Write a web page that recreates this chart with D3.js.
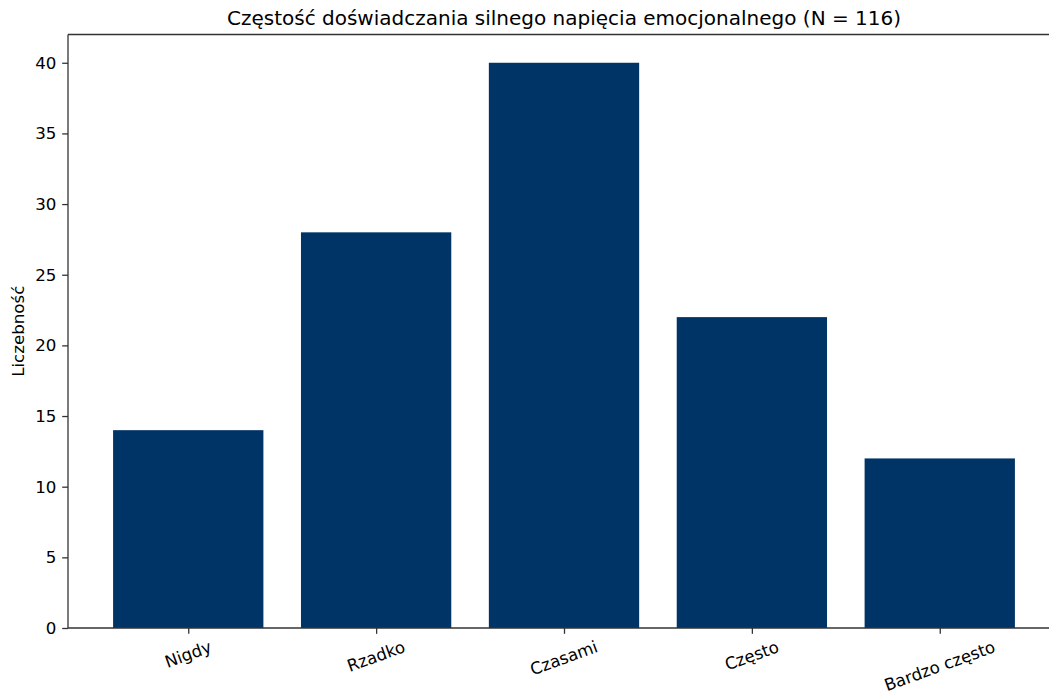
<!DOCTYPE html>
<html lang="pl">
<head>
<meta charset="UTF-8">
<title>Częstość doświadczania silnego napięcia emocjonalnego</title>
<script src="https://d3js.org/d3.v7.min.js"></script>
<style>
  body { margin: 0; background: #fff; }
  svg { font-family: "DejaVu Sans", sans-serif; display: block; }
</style>
</head>
<body>
<script>
// dane
const categories = ["Nigdy", "Rzadko", "Czasami", "Często", "Bardzo często"];
const counts = [14, 28, 40, 22, 12];
const yTicks = [0, 5, 10, 15, 20, 25, 30, 35, 40];
const title = "Częstość doświadczania silnego napięcia emocjonalnego (N = 116)";
const yLabel = "Liczebność";

const width = 1049, height = 694;
const fs = 16.67;      // 10pt przy 120 dpi
const tick = 5.83;     // 3.5pt
// obszar wykresu (prawa krawędź wychodzi poza obraz, jak w oryginale)
const margin = {top: 34.5, left: 68, bottom: 66, right: -11};
const plotW = width - margin.left - margin.right;
const plotH = height - margin.top - margin.bottom;

const svg = d3.select("body").append("svg")
    .attr("width", width)
    .attr("height", height);

const g = svg.append("g")
    .attr("transform", `translate(${margin.left},${margin.top})`);

// skala x jak w matplotlib: indeksy -0.64 .. 4.64
const n = categories.length;
const x = d3.scaleLinear()
    .domain([-0.4 - 0.05 * (n - 0.2), (n - 1) + 0.4 + 0.05 * (n - 0.2)])
    .range([0, plotW]);
const barW = x(0.8) - x(0);

const y = d3.scaleLinear()
    .domain([0, d3.max(counts) * 1.05])
    .range([plotH, 0]);

// słupki
g.selectAll("rect.bar")
    .data(counts)
    .enter().append("rect")
    .attr("class", "bar")
    .attr("x", (d, i) => x(i) - barW / 2)
    .attr("y", d => y(d))
    .attr("width", barW)
    .attr("height", d => plotH - y(d))
    .attr("fill", "#003366");

// oś Y
const yAxis = g.append("g")
    .call(d3.axisLeft(y).tickValues(yTicks).tickSize(tick).tickPadding(tick));
yAxis.select(".domain").remove();
yAxis.selectAll(".tick line").attr("stroke", "#333").attr("stroke-width", 1.3);
yAxis.selectAll(".tick text")
    .attr("font-size", fs + "px")
    .attr("font-family", "DejaVu Sans, sans-serif")
    .attr("fill", "#000");

// oś X
const xAxis = g.append("g")
    .attr("transform", `translate(0,${plotH})`)
    .call(d3.axisBottom(x).tickValues(d3.range(n)).tickSize(tick).tickFormat(""));
xAxis.select(".domain").remove();
xAxis.selectAll(".tick line").attr("stroke", "#333").attr("stroke-width", 1.3);

// etykiety kategorii obrócone o 20°, górna krawędź ramki pod znacznikiem
const rad = 20 * Math.PI / 180;
g.selectAll("text.xlabel")
    .data(categories)
    .enter().append("text")
    .attr("class", "xlabel")
    .attr("text-anchor", "middle")
    .attr("dominant-baseline", "central")
    .attr("font-size", fs + "px")
    .attr("fill", "#000")
    .text(d => d)
    .attr("transform", function(d, i) {
        const len = this.getComputedTextLength();
        const h = len * Math.sin(rad) + fs * 1.1 * Math.cos(rad);
        return `translate(${x(i)},${plotH + tick * 2 - 2 + h / 2}) rotate(-20)`;
    });

// ramka
const spine = g.append("g")
    .attr("fill", "none")
    .attr("stroke", "#333")
    .attr("stroke-width", 1.3);
spine.append("line").attr("x1", 0).attr("x2", 0).attr("y1", 0).attr("y2", plotH);
spine.append("line").attr("x1", 0).attr("x2", plotW).attr("y1", plotH).attr("y2", plotH);
spine.append("line").attr("x1", 0).attr("x2", plotW).attr("y1", 0).attr("y2", 0);
spine.append("line").attr("x1", plotW).attr("x2", plotW).attr("y1", 0).attr("y2", plotH);

// tytuł
g.append("text")
    .attr("x", plotW / 2)
    .attr("y", -10)
    .attr("text-anchor", "middle")
    .attr("font-size", "20px")
    .attr("fill", "#000")
    .text(title);

// etykieta osi Y
svg.append("text")
    .attr("transform", `translate(24,${margin.top + plotH / 2}) rotate(-90)`)
    .attr("text-anchor", "middle")
    .attr("font-size", fs + "px")
    .attr("fill", "#000")
    .text(yLabel);
</script>
</body>
</html>
